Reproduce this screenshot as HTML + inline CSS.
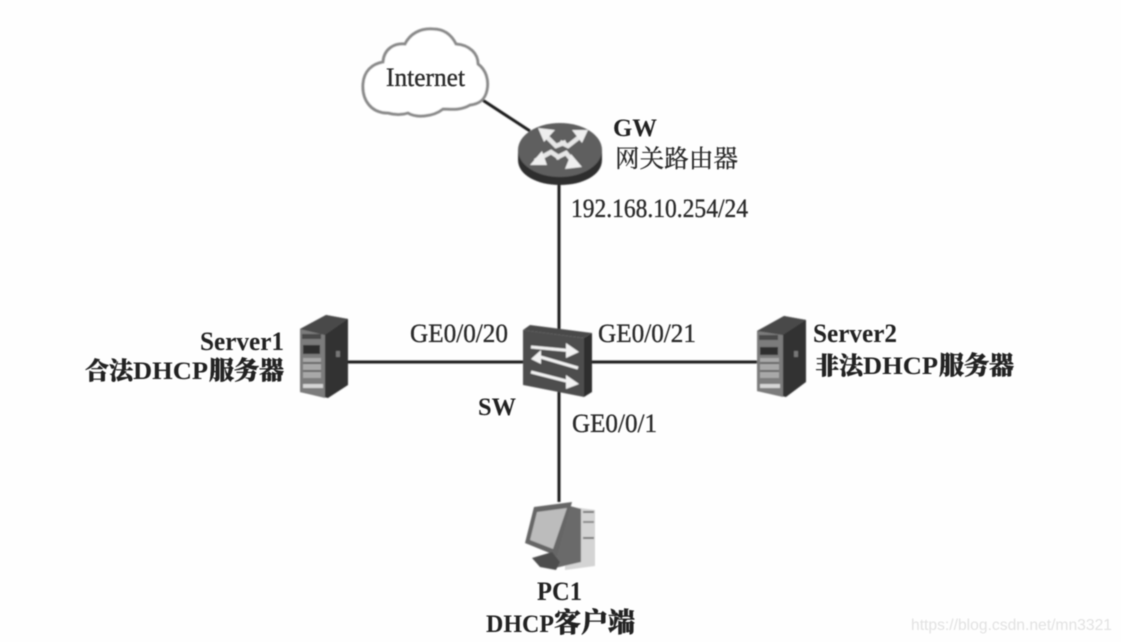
<!DOCTYPE html>
<html>
<head>
<meta charset="utf-8">
<style>
html,body{margin:0;padding:0;background:#fefefe;width:1121px;height:642px;overflow:hidden}
svg{display:block}
text{font-family:"Liberation Serif","Noto Serif CJK SC",serif;fill:#2b2b2b}
.b{font-weight:700;fill:#222}
.c{font-family:"Liberation Serif","Noto Serif CJK SC",serif;font-weight:900;fill:#222;stroke:#222;stroke-width:.5}
.r{stroke:#2b2b2b;stroke-width:.35}
</style>
</head>
<body>
<svg width="1121" height="642" viewBox="0 0 1121 642" xmlns="http://www.w3.org/2000/svg">
<defs>
<filter id="s" x="-5%" y="-5%" width="110%" height="110%"><feGaussianBlur stdDeviation="0.8"/></filter>
<filter id="t" x="-5%" y="-20%" width="110%" height="140%"><feGaussianBlur stdDeviation="0.45"/></filter>
</defs>
<g filter="url(#s)">
<!-- connectors -->
<g stroke="#1e1e1e" stroke-width="3" fill="none">
<line x1="481" y1="99" x2="530" y2="131"/>
<line x1="559" y1="180" x2="559" y2="330"/>
<line x1="559" y1="390" x2="559" y2="502"/>
<line x1="340" y1="362" x2="526" y2="362"/>
<line x1="590" y1="362" x2="760" y2="362"/>
</g>
<!-- cloud -->
<path d="M388 113C371 113 362 100 363 84C364 71 372 64 383 62C384 49 394 43 405 44C410 34 420 28 433 29C445 29 452 36 456 44C470 45 478 54 478 64C486 70 489 80 487 90C485 100 479 104 470 105C460 111 450 109 443 109C433 117 416 118 408 113C402 115 395 115 388 113Z" fill="#fff" stroke="#8a8a8a" stroke-width="3"/>
<!-- router -->
<path d="M518 150V160C518 175 537 185 560 185C583 185 602 175 602 160V150Z" fill="#2e2e2e"/>
<ellipse cx="560" cy="150" rx="42" ry="27" fill="#5e5e5e"/>
<g stroke="#e6e6e6" stroke-width="4.5" fill="none">
<path d="M544 134L556 146L566 142"/><path d="M582 135L568 146L560 142"/><path d="M535 161L551 152L560 158"/><path d="M575 164L566 153L556 158"/>
</g>
<g fill="#eee">
<polygon points="538,128 555,130 544,142"/>
<polygon points="588,130 572,130 582,143"/>
<polygon points="530,165 542,151 547,165"/>
<polygon points="582,167 565,169 571,154"/>
</g>
<!-- switch -->
<polygon points="523,330 530,325 592,333 584,338" fill="#4a4a4a"/>
<polygon points="584,338 592,333 592,392 584,397" fill="#2e2e2e"/>
<polygon points="523,330 584,338 584,397 523,385" fill="#4e4e4e"/>
<g stroke="#f2f2f2" stroke-width="3" fill="none">
<line x1="531" y1="347" x2="574" y2="351"/>
<line x1="537" y1="356" x2="578" y2="368"/>
<line x1="531" y1="372" x2="574" y2="383"/>
</g>
<g fill="#f2f2f2">
<polygon points="566,343 579,352 566,358"/>
<polygon points="531,359 541,350 541,364"/>
<polygon points="566,375 579,384 566,389"/>
</g>
<!-- server1 -->
<polygon points="300,329 326,315 348,319 348,385 328,398 300,392" fill="#303030"/>
<polygon points="300,329 326,315 348,319 325,335" fill="#4a4a4a"/>
<polygon points="300,329 325,335 325,398 300,392" fill="#7c7c7c"/>
<rect x="302" y="334" width="19" height="5" fill="#4a4a4a"/>
<rect x="303" y="345" width="17" height="9" fill="#2e2e2e"/>
<rect x="303" y="358" width="18" height="20" fill="#a8a8a8"/>
<rect x="303" y="362" width="18" height="2" fill="#666"/>
<rect x="303" y="370" width="18" height="2" fill="#666"/>
<rect x="303" y="384" width="20" height="4" fill="#d5d5d5"/>
<rect x="336" y="351" width="4" height="6" fill="#777"/>
<!-- server2 -->
<polygon points="757,331 784,316 806,320 806,382 786,397 757,391" fill="#303030"/>
<polygon points="757,331 784,316 806,320 783,335" fill="#4a4a4a"/>
<polygon points="757,331 783,335 783,397 757,391" fill="#7c7c7c"/>
<rect x="759" y="335" width="19" height="5" fill="#4a4a4a"/>
<rect x="760" y="347" width="18" height="8" fill="#2e2e2e"/>
<rect x="760" y="358" width="19" height="20" fill="#a8a8a8"/>
<rect x="760" y="362" width="19" height="2" fill="#666"/>
<rect x="760" y="370" width="19" height="2" fill="#666"/>
<rect x="760" y="384" width="20" height="4" fill="#d5d5d5"/>
<rect x="794" y="351" width="4" height="6" fill="#777"/>
<!-- pc -->
<polygon points="565,506 595,510 595,566 565,570" fill="#d4d4d4"/>
<rect x="583" y="511" width="11" height="2" fill="#777"/>
<rect x="583" y="521" width="11" height="2" fill="#888"/>
<rect x="583" y="537" width="11" height="2" fill="#777"/>
<polygon points="570,506 581,509 581,562 555,568 552,548" fill="#6a6a6a"/>
<polygon points="534,507 572,502 557,556 525,543" fill="#666"/>
<polygon points="537,512 567,508 553,549 530,540" fill="#bcbcbc"/>
<polygon points="532,558 552,552 560,562 556,570 540,567" fill="#4e4e4e"/>
</g>
<!-- labels -->
<g filter="url(#t)">
<text class="r" x="386" y="86" font-size="26" textLength="79" lengthAdjust="spacingAndGlyphs">Internet</text>
<text class="b" x="613" y="136" font-size="25" textLength="44" lengthAdjust="spacingAndGlyphs">GW</text>
<text class="r" x="615" y="167" font-size="24.5" textLength="123">网关路由器</text>
<text class="r" x="571" y="217" font-size="26" textLength="177" lengthAdjust="spacingAndGlyphs">192.168.10.254/24</text>
<text class="r" x="410" y="342" font-size="26" textLength="98" lengthAdjust="spacingAndGlyphs">GE0/0/20</text>
<text class="r" x="598" y="342" font-size="26" textLength="98" lengthAdjust="spacingAndGlyphs">GE0/0/21</text>
<text class="r" x="572" y="432" font-size="26" textLength="85" lengthAdjust="spacingAndGlyphs">GE0/0/1</text>
<text class="b" x="478" y="415" font-size="25" textLength="38" lengthAdjust="spacingAndGlyphs">SW</text>
<text class="b" x="200" y="350" font-size="26" textLength="84" lengthAdjust="spacingAndGlyphs">Server1</text>
<text class="c" x="85" y="379" font-size="24">合法</text>
<text class="b" x="133" y="379" font-size="25" textLength="75" lengthAdjust="spacingAndGlyphs">DHCP</text>
<text class="c" x="209" y="379" font-size="25">服务器</text>
<text class="b" x="813" y="342" font-size="26" textLength="84" lengthAdjust="spacingAndGlyphs">Server2</text>
<text class="c" x="815" y="374" font-size="24">非法</text>
<text class="b" x="863" y="374" font-size="25" textLength="75" lengthAdjust="spacingAndGlyphs">DHCP</text>
<text class="c" x="939" y="374" font-size="25">服务器</text>
<text class="b" x="537" y="600" font-size="26" textLength="45" lengthAdjust="spacingAndGlyphs">PC1</text>
<text class="b" x="486" y="632" font-size="25" textLength="68" lengthAdjust="spacingAndGlyphs">DHCP</text>
<text class="c" x="554" y="632" font-size="27">客户端</text>
<text x="911" y="630" font-size="16" textLength="201" lengthAdjust="spacingAndGlyphs" style="font-family:'Liberation Sans',sans-serif;fill:#e2e2e2">https://blog.csdn.net/mn3321</text>
</g>
</svg>
</body>
</html>
